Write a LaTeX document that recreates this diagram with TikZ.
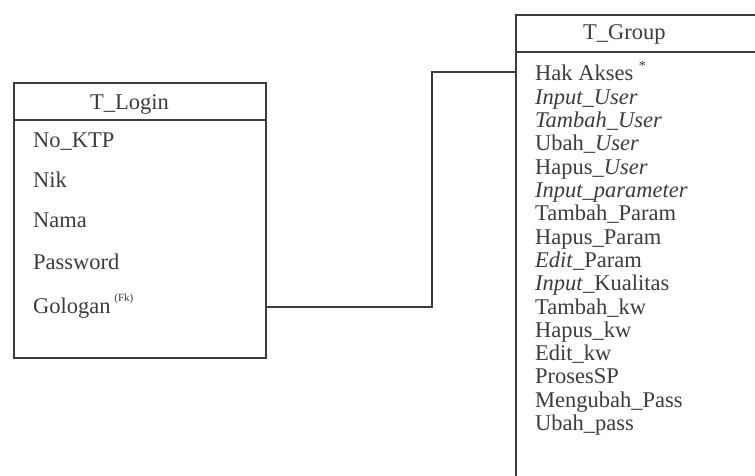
\documentclass[tikz,border=0pt]{standalone}
\usepackage{fontspec}
\setmainfont{Liberation Serif}
\usetikzlibrary{math}
\definecolor{mygray}{RGB}{60,60,60}

\begin{document}
\begin{tikzpicture}[x=1pt, y=1pt,
  tbl/.style={draw=mygray, line width=1.6pt, anchor=north west, inner sep=0pt},
  fld/.style={anchor=base west, inner sep=0pt, text=mygray, font=\fontsize{22.5}{23}\selectfont},
  ttl/.style={fld}]
\tikzmath{
\H=475;
\dy=23.3;
}
\useasboundingbox (0,0) rectangle (755,\H);
\clip (0,0) rectangle (755,\H);

% T_Login
\node[tbl, minimum width=252pt, minimum height=275pt] (login) at (13,\H-82) {};
\node[tbl, minimum width=252pt, minimum height=37pt] (loginhead) at (login.north west) {};
\node[ttl] (logintitle) at (90,\H-109) {T\_Login};
\node[fld] (ktp) at (33,\H-148) {No\_KTP};
\node[fld] (nik) at (33,\H-187) {Nik};
\node[fld] (nama) at (33,\H-227) {Nama};
\node[fld] (pass) at (33,\H-269) {Password};
\node[fld] (gol) at (33,\H-313) {Gologan\,\raisebox{0.5em}{\fontsize{11}{12}\selectfont(Fk)}};

% T_Group
\node[tbl, minimum width=250pt, minimum height=480pt] (group) at (515,\H-14) {};
\node[tbl, minimum width=250pt, minimum height=37pt] (grouphead) at (group.north west) {};
\node[ttl] (grouptitle) at (583,\H-40) {T\_Group};
\foreach \t [count=\i] in {
  {Hak Akses \raisebox{0.45em}{\fontsize{14}{14}\selectfont*}},
  {\textit{Input\_User}},
  {\textit{Tambah\_User}},
  {Ubah\_\textit{User}},
  {Hapus\_\textit{User}},
  {\textit{Input\_parameter}},
  {Tambah\_Param},
  {Hapus\_Param},
  {\textit{Edit}\_Param},
  {\textit{Input}\_Kualitas},
  {Tambah\_kw},
  {Hapus\_kw},
  {Edit\_kw},
  {ProsesSP},
  {Mengubah\_Pass},
  {Ubah\_pass}}
  \node[fld] (g\i) at (535,\H-81-\dy*\i+\dy) {\t};

% relasi
\coordinate (lk) at (login.east |- 0,\H-307);
\coordinate (gk) at (group.west |- 0,\H-72);
\coordinate (mid) at (432,0);
\draw[mygray, line width=1.6pt] (lk) -- (lk -| mid) -- (gk -| mid) -- (gk);

\end{tikzpicture}
\end{document}
